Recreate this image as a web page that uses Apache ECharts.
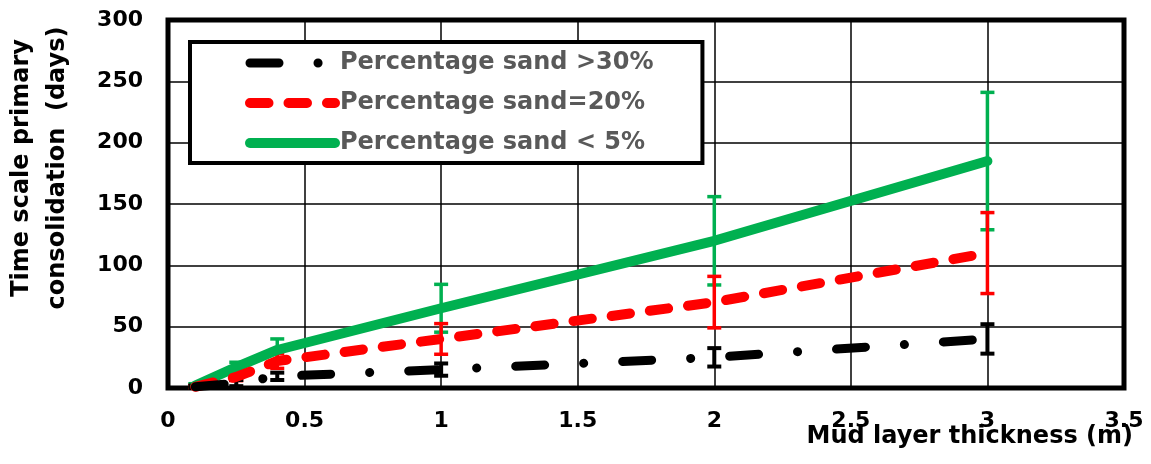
<!DOCTYPE html>
<html>
<head>
<meta charset="utf-8">
<script src="https://cdn.jsdelivr.net/npm/echarts@6/dist/echarts.min.js"></script>
<style>html,body{margin:0;padding:0;background:#fff}#c{width:1151px;height:464px}</style>
</head>
<body>
<div id="c"></div>
<script>
const xValues = [0.1, 0.25, 0.4, 1, 2, 3];
const sand30 = [1, 4, 9.5, 15, 25, 40];
const sand30Err = [1, 2.5, 3, 5, 7.5, 12];
const sand20 = [1, 9, 22, 40, 70, 110];
const sand20Err = [1, 3, 6, 12.5, 21, 33];
const sand5 = [2, 17, 31, 65, 120, 185];
const sand5Err = [1.5, 4, 9, 19.5, 36, 56];
const seriesNames = ['Percentage sand >30%', 'Percentage sand=20%', 'Percentage sand < 5%'];
const xTitle = 'Mud layer thickness (m)';
const yTitle = 'Time scale primary\nconsolidation  (days)';

const FONT = 'DejaVu Sans';
const styles = {
  black: { color: '#000000', width: 9, type: [29, 39, 0.1, 39], cap: 'round', join: 'round' },
  red: { color: '#FF0000', width: 10, type: [18.5, 20], cap: 'round', join: 'round' },
  green: { color: '#00B050', width: 10, type: 'solid', cap: 'round', join: 'round' }
};

function pts(vals) { return xValues.map((x, i) => [x, vals[i]]); }
function errs(vals, e) { return xValues.map((x, i) => [x, vals[i] - e[i], vals[i] + e[i]]); }
function errRender(color, w) {
  return function (params, api) {
    const x = api.value(0), lo = api.value(1), hi = api.value(2);
    const p1 = api.coord([x, lo]), p2 = api.coord([x, hi]);
    const cw = 7;
    const st = { stroke: color, lineWidth: w };
    return {
      type: 'group',
      children: [
        { type: 'line', shape: { x1: p1[0], y1: p1[1], x2: p2[0], y2: p2[1] }, style: st },
        { type: 'line', shape: { x1: p1[0] - cw, y1: p1[1], x2: p1[0] + cw, y2: p1[1] }, style: st },
        { type: 'line', shape: { x1: p2[0] - cw, y1: p2[1], x2: p2[0] + cw, y2: p2[1] }, style: st }
      ]
    };
  };
}

const chart = echarts.init(document.getElementById('c'));
const labelStyle = { fontFamily: FONT, fontWeight: 'bold', fontSize: 22, color: '#000' };
chart.setOption({
  animation: false,
  grid: { left: 168, top: 20, width: 956, height: 368, show: true, borderColor: '#000', borderWidth: 5, backgroundColor: 'transparent' },
  xAxis: {
    type: 'value', min: 0, max: 3.5, interval: 0.5,
    axisLine: { show: false }, axisTick: { show: false },
    splitLine: { show: true, lineStyle: { color: '#000', width: 1.5 } },
    axisLabel: Object.assign({ margin: 22 }, labelStyle)
  },
  yAxis: {
    type: 'value', min: 0, max: 300, interval: 50,
    axisLine: { show: false }, axisTick: { show: false },
    splitLine: { show: true, lineStyle: { color: '#000', width: 1.5 } },
    axisLabel: Object.assign({ margin: 25 }, labelStyle)
  },
  legend: {
    orient: 'vertical', left: 190, top: 42,
    itemWidth: 85, itemHeight: 10, itemGap: 16,
    padding: [9, 49, 8, 55],
    borderColor: '#000', borderWidth: 4, backgroundColor: '#fff',
    textStyle: { fontFamily: FONT, fontWeight: 'bold', fontSize: 24, color: '#595959' },
    data: [
      { name: seriesNames[0], itemStyle: { opacity: 0 }, lineStyle: styles.black },
      { name: seriesNames[1], itemStyle: { opacity: 0 }, lineStyle: styles.red },
      { name: seriesNames[2], itemStyle: { opacity: 0 }, lineStyle: styles.green }
    ]
  },
  graphic: [
    { type: 'text', x: 40, y: 168, rotation: Math.PI / 2,
      style: { text: yTitle, align: 'center', verticalAlign: 'middle', font: 'bold 24px "DejaVu Sans"', lineHeight: 36, fill: '#000' } },
    { type: 'text', x: 1133, y: 437,
      style: { text: xTitle, align: 'right', verticalAlign: 'middle', font: 'bold 24px "DejaVu Sans"', fill: '#000' } }
  ],
  series: [
    { type: 'custom', name: 'e5', renderItem: errRender('#00B050', 3.5), encode: { x: 0, y: [1, 2] }, data: errs(sand5, sand5Err), z: 1 },
    { type: 'custom', name: 'e20', renderItem: errRender('#FF0000', 3.5), encode: { x: 0, y: [1, 2] }, data: errs(sand20, sand20Err), z: 1 },
    { type: 'custom', name: 'e30', renderItem: errRender('#000000', 4), encode: { x: 0, y: [1, 2] }, data: errs(sand30, sand30Err), z: 1 },
    { type: 'line', name: seriesNames[2], data: pts(sand5), symbol: 'none', z: 3,
      lineStyle: styles.green, itemStyle: { color: '#00B050' } },
    { type: 'line', name: seriesNames[1], data: pts(sand20), symbol: 'none', z: 3,
      lineStyle: styles.red, itemStyle: { color: '#FF0000' } },
    { type: 'line', name: seriesNames[0], data: pts(sand30), symbol: 'none', z: 3,
      lineStyle: styles.black, itemStyle: { color: '#000000' } }
  ]
});
</script>
</body>
</html>
